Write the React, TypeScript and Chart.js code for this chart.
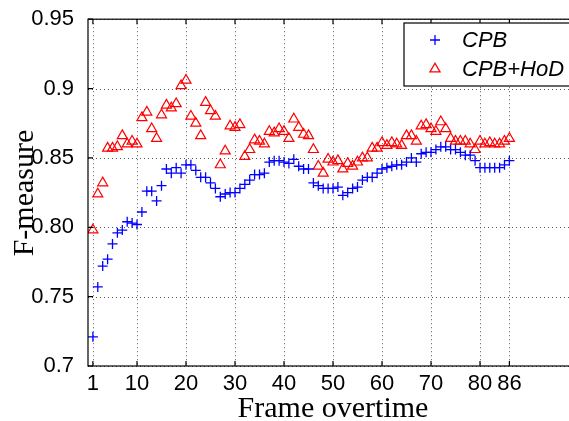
import React, { useEffect, useRef } from "react";
import { Chart, registerables } from "chart.js";

Chart.register(...registerables);

const seriesNames = ["CPB", "CPB+HoD"];
const seriesColors = ["#0000FF", "#FF0000"];

const cpbValues = [
  0.721, 0.757, 0.772, 0.777, 0.788, 0.796, 0.798, 0.804, 0.803, 0.802,
  0.811, 0.826, 0.826, 0.819, 0.830, 0.842, 0.839, 0.843, 0.839, 0.845,
  0.845, 0.841, 0.836, 0.836, 0.832, 0.828, 0.822, 0.824, 0.825, 0.825,
  0.828, 0.831, 0.834, 0.838, 0.838, 0.839, 0.847, 0.848, 0.848, 0.847,
  0.846, 0.849, 0.844, 0.842, 0.842, 0.832, 0.830, 0.828, 0.828, 0.828,
  0.829, 0.823, 0.825, 0.828, 0.829, 0.834, 0.836, 0.836, 0.839, 0.842,
  0.843, 0.844, 0.845, 0.845, 0.847, 0.850, 0.847, 0.853, 0.854, 0.854,
  0.856, 0.858, 0.858, 0.856, 0.856, 0.854, 0.852, 0.852, 0.848, 0.843,
  0.843, 0.843, 0.843, 0.843, 0.845, 0.848,
];

const hodValues = [
  0.798, 0.824, 0.832, 0.857, 0.857, 0.858, 0.866, 0.860, 0.862, 0.860,
  0.879, 0.883, 0.871, 0.864, 0.881, 0.888, 0.886, 0.889, 0.902, 0.906,
  0.880, 0.875, 0.866, 0.890, 0.884, 0.880, 0.845, 0.855, 0.873, 0.872,
  0.874, 0.851, 0.856, 0.863, 0.862, 0.860, 0.869, 0.868, 0.871, 0.869,
  0.864, 0.878, 0.872, 0.867, 0.866, 0.856, 0.844, 0.839, 0.849, 0.847,
  0.848, 0.842, 0.846, 0.844, 0.847, 0.850, 0.850, 0.857, 0.857, 0.861,
  0.859, 0.861, 0.860, 0.859, 0.866, 0.866, 0.862, 0.873, 0.874, 0.871,
  0.869, 0.876, 0.871, 0.864, 0.862, 0.862, 0.862, 0.860, 0.856, 0.862,
  0.860, 0.861, 0.860, 0.860, 0.862, 0.864,
];

const xTicks = [1, 10, 20, 30, 40, 50, 60, 70, 80, 86];
const yTicks = [0.7, 0.75, 0.8, 0.85, 0.9, 0.95];
const yTickLabels = ["0.7", "0.75", "0.80", "0.85", "0.9", "0.95"];
const xTitle = "Frame overtime";
const yTitle = "F-measure";

const TITLE_FONT = '30px "Liberation Serif", "Times New Roman", serif';
const LEGEND_FONT = 'italic 22px "Liberation Sans", Arial, sans-serif';

const framePlugin = {
  id: "matlabFrame",
  beforeDatasetsDraw(chart: any) {
    const { ctx, chartArea: a, scales } = chart;
    const x = scales.x;
    const y = scales.y;
    ctx.save();
    ctx.strokeStyle = "#555";
    ctx.lineWidth = 1;
    ctx.setLineDash([1, 3]);
    for (const v of xTicks) {
      const px = Math.round(x.getPixelForValue(v)) + 0.5;
      ctx.beginPath();
      ctx.moveTo(px, a.top);
      ctx.lineTo(px, a.bottom);
      ctx.stroke();
    }
    for (const v of yTicks) {
      const py = Math.round(y.getPixelForValue(v)) + 0.5;
      ctx.beginPath();
      ctx.moveTo(a.left, py);
      ctx.lineTo(a.right, py);
      ctx.stroke();
    }
    ctx.restore();
  },
  afterDatasetsDraw(chart: any) {
    const { ctx, chartArea: a, scales } = chart;
    const x = scales.x;
    const y = scales.y;
    ctx.save();
    ctx.setLineDash([]);
    ctx.strokeStyle = "#000";
    ctx.lineWidth = 1.2;
    ctx.strokeRect(a.left, a.top, a.right - a.left, a.bottom - a.top);
    const tl = 5;
    ctx.beginPath();
    for (const v of xTicks) {
      const px = x.getPixelForValue(v);
      ctx.moveTo(px, a.bottom);
      ctx.lineTo(px, a.bottom - tl);
      ctx.moveTo(px, a.top);
      ctx.lineTo(px, a.top + tl);
    }
    for (const v of yTicks) {
      const py = y.getPixelForValue(v);
      ctx.moveTo(a.left, py);
      ctx.lineTo(a.left + tl, py);
      ctx.moveTo(a.right, py);
      ctx.lineTo(a.right - tl, py);
    }
    ctx.stroke();

    // Legend (inside plot, top right)
    const lx = 404;
    const ly = 23;
    const lb = 86;
    ctx.fillStyle = "#fff";
    ctx.fillRect(lx, ly, 300, lb - ly);
    ctx.strokeStyle = "#000";
    ctx.lineWidth = 1.2;
    ctx.strokeRect(lx, ly, 300, lb - ly);
    const rows = [40, 69];
    chart.data.datasets.forEach((ds: any, i: number) => {
      const cy = rows[i];
      const cx = 435;
      ctx.strokeStyle = ds.borderColor;
      ctx.lineWidth = 1.3;
      ctx.beginPath();
      if (ds.pointStyle === "cross") {
        ctx.moveTo(cx - 5, cy);
        ctx.lineTo(cx + 5, cy);
        ctx.moveTo(cx, cy - 5);
        ctx.lineTo(cx, cy + 5);
      } else {
        const r = 5.8;
        ctx.moveTo(cx, cy - r);
        ctx.lineTo(cx + r * 0.866, cy + r * 0.5);
        ctx.lineTo(cx - r * 0.866, cy + r * 0.5);
        ctx.closePath();
      }
      ctx.stroke();
      ctx.fillStyle = "#000";
      ctx.font = LEGEND_FONT;
      ctx.textAlign = "left";
      ctx.textBaseline = "middle";
      ctx.fillText(ds.label, 462, cy + 1);
    });

    // Axis titles
    ctx.fillStyle = "#000";
    ctx.font = TITLE_FONT;
    ctx.textAlign = "center";
    ctx.textBaseline = "alphabetic";
    ctx.fillText(xTitle, 333, 417);
    ctx.save();
    ctx.translate(33, 193);
    ctx.rotate(-Math.PI / 2);
    ctx.fillText(yTitle, 0, 0);
    ctx.restore();
    ctx.restore();
  },
};

export default function App() {
  const ref = useRef<HTMLCanvasElement | null>(null);

  useEffect(() => {
    if (!ref.current) return;
    const chart = new Chart(ref.current, {
      type: "scatter",
      data: {
        datasets: [
          {
            label: seriesNames[0],
            data: cpbValues.map((v, i) => ({ x: i + 1, y: v })),
            pointStyle: "cross",
            pointRadius: 5,
            pointBorderWidth: 1.3,
            borderColor: seriesColors[0],
            backgroundColor: seriesColors[0],
            showLine: false,
          },
          {
            label: seriesNames[1],
            data: hodValues.map((v, i) => ({ x: i + 1, y: v })),
            pointStyle: "triangle",
            pointRadius: 5.8,
            pointBorderWidth: 1.2,
            borderColor: seriesColors[1],
            backgroundColor: "rgba(0,0,0,0)",
            showLine: false,
          },
        ],
      },
      options: {
        responsive: false,
        animation: false,
        events: [],
        layout: { padding: { left: 0, top: 19, right: 12, bottom: 0 } },
        plugins: {
          legend: { display: false },
          tooltip: { enabled: false },
        },
        scales: {
          x: {
            type: "linear",
            min: 0,
            max: 100,
            grid: { display: false },
            border: { display: false },
            afterBuildTicks: (s: any) => {
              s.ticks = xTicks.map((v) => ({ value: v }));
            },
            afterFit: (s: any) => {
              s.height = 55;
            },
            ticks: {
              autoSkip: false,
              maxRotation: 0,
              padding: -3,
              color: "#000",
              font: { family: '"Liberation Sans", Arial, sans-serif', size: 22 },
              callback: (v: any) => String(v),
            },
          },
          y: {
            type: "linear",
            min: 0.7,
            max: 0.95,
            grid: { display: false },
            border: { display: false },
            afterBuildTicks: (s: any) => {
              s.ticks = yTicks.map((v) => ({ value: v }));
            },
            afterFit: (s: any) => {
              s.width = 88;
            },
            ticks: {
              autoSkip: false,
              padding: 6,
              color: "#000",
              font: { family: '"Liberation Sans", Arial, sans-serif', size: 22 },
              callback: (_v: any, i: number) => yTickLabels[i],
            },
          },
        },
      },
      plugins: [framePlugin],
    });
    return () => chart.destroy();
  }, []);

  return (
    <div
      style={{
        position: "fixed",
        left: 0,
        top: 0,
        width: 569,
        height: 421,
        overflow: "hidden",
        background: "#fff",
      }}
    >
      <canvas ref={ref} width={590} height={421} style={{ display: "block" }} />
    </div>
  );
}
